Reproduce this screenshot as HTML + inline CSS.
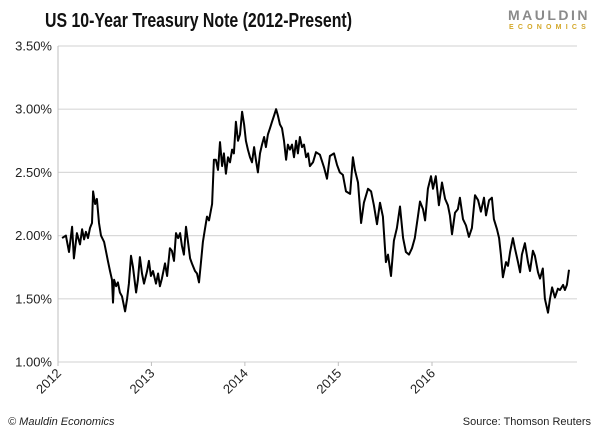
<!DOCTYPE html>
<html><head><meta charset="utf-8"><style>
body{margin:0;background:#fff;font-family:"Liberation Sans",sans-serif}
#wrap{position:relative;width:600px;height:435px;overflow:hidden}
</style></head><body>
<div id="wrap">
<svg id="chart" width="600" height="435">
<text x="45" y="27" font-size="20" font-weight="bold" fill="#111" textLength="307" lengthAdjust="spacingAndGlyphs">US 10-Year Treasury Note (2012-Present)</text>
<text x="590" y="20" text-anchor="end" font-size="14" fill="#8a8a8a" letter-spacing="2.5" font-weight="bold">MAULDIN</text>
<text x="590" y="29" text-anchor="end" font-size="7" fill="#d4a82a" letter-spacing="4.2" font-weight="bold">ECONOMICS</text>
<text x="8" y="425" font-size="11" font-style="italic" fill="#222">© Mauldin Economics</text>
<text x="591" y="425" text-anchor="end" font-size="11" fill="#222">Source: Thomson Reuters</text>
<g id="grid"></g><g id="axes"></g><g id="series"></g>
</svg>
</div>
<script>
const yTicks = [1.0, 1.5, 2.0, 2.5, 3.0, 3.5];
const yTickLabels = ["1.00%","1.50%","2.00%","2.50%","3.00%","3.50%"];
const xTickDays = [0, 365, 730, 1095, 1461];
const xTickLabels = ["2012","2013","2014","2015","2016"];
const days = [16,31,43,55,62,74,86,94,102,109,117,125,133,137,145,152,160,168,180,187,195,203,211,215,219,227,234,242,250,262,270,277,285,293,305,312,320,328,336,348,355,363,371,383,391,398,406,418,426,437,445,453,461,469,477,484,492,500,508,516,523,535,543,551,559,566,574,582,590,602,609,617,625,633,641,648,656,664,672,680,687,695,703,711,719,727,734,742,750,758,766,773,781,789,797,805,812,820,828,836,844,852,859,867,875,883,891,898,906,914,922,930,937,945,953,961,969,977,984,996,1008,1023,1039,1051,1062,1078,1090,1101,1113,1125,1141,1152,1160,1172,1184,1195,1211,1223,1234,1246,1258,1269,1281,1289,1301,1312,1324,1336,1348,1359,1371,1383,1394,1406,1414,1426,1434,1445,1457,1465,1476,1488,1500,1512,1523,1531,1539,1551,1562,1570,1582,1594,1605,1617,1629,1641,1652,1664,1672,1684,1695,1703,1715,1723,1730,1738,1750,1758,1766,1777,1785,1797,1805,1812,1824,1836,1844,1855,1863,1875,1883,1894,1902,1914,1922,1930,1941,1953,1961,1973,1980,1988,1996];
const yields = [1.98,2.00,1.87,2.07,1.82,2.02,1.93,2.05,1.97,2.03,1.98,2.06,2.10,2.35,2.25,2.29,2.10,2.00,1.95,1.88,1.80,1.72,1.65,1.47,1.65,1.60,1.63,1.55,1.52,1.40,1.50,1.62,1.84,1.75,1.55,1.65,1.83,1.70,1.62,1.72,1.80,1.68,1.72,1.62,1.70,1.60,1.66,1.78,1.68,1.90,1.88,1.80,2.02,1.98,2.02,1.92,1.85,2.07,1.95,1.82,1.78,1.72,1.70,1.63,1.80,1.95,2.05,2.15,2.12,2.25,2.60,2.60,2.52,2.74,2.55,2.65,2.49,2.62,2.58,2.68,2.65,2.90,2.75,2.80,2.98,2.88,2.75,2.68,2.62,2.58,2.70,2.60,2.50,2.65,2.72,2.78,2.70,2.80,2.85,2.90,2.95,3.00,2.95,2.88,2.85,2.75,2.60,2.72,2.68,2.72,2.62,2.75,2.65,2.78,2.70,2.72,2.62,2.65,2.55,2.58,2.66,2.64,2.54,2.45,2.63,2.65,2.56,2.50,2.48,2.35,2.33,2.62,2.52,2.42,2.10,2.26,2.37,2.35,2.24,2.09,2.26,2.15,1.79,1.85,1.68,1.96,2.06,2.23,1.98,1.87,1.85,1.90,1.98,2.15,2.27,2.21,2.12,2.37,2.47,2.37,2.47,2.24,2.42,2.29,2.24,2.16,2.01,2.18,2.21,2.30,2.13,2.08,1.99,2.06,2.32,2.28,2.19,2.30,2.16,2.28,2.30,2.13,2.05,1.98,1.85,1.67,1.79,1.76,1.87,1.98,1.90,1.79,1.71,1.85,1.94,1.79,1.72,1.88,1.84,1.71,1.66,1.74,1.50,1.39,1.50,1.59,1.51,1.58,1.57,1.61,1.57,1.61,1.73,1.71];

const X0=58, PXD=93.5/365.25, Y0=362, PXP=63.2/0.5;
const sx = d => X0 + d*PXD;
const sy = v => Y0 - (v-1.0)*PXP;
const NS="http://www.w3.org/2000/svg";
const grid=document.getElementById('grid'), axes=document.getElementById('axes'), series=document.getElementById('series');
function mk(tag,attrs,parent){const e=document.createElementNS(NS,tag);for(const k in attrs)e.setAttribute(k,attrs[k]);parent.appendChild(e);return e;}
yTicks.forEach((v,i)=>{
  const l=mk('line',{x1:X0,x2:577,y1:sy(v),y2:sy(v),stroke:'#d9d9d9','stroke-width':1.2},grid);
  
  
  const t=mk('text',{x:52,y:sy(v)+4.5,'text-anchor':'end','font-size':13,fill:'#222'},axes);
  t.textContent=yTickLabels[i];
  
  
});
const ya=mk('line',{x1:X0,x2:X0,y1:sy(3.5),y2:Y0+3,stroke:'#bfbfbf','stroke-width':1},axes);


xTickDays.forEach((d,i)=>{
  const x=sx(d);
  const tk=mk('line',{x1:x,x2:x,y1:Y0,y2:Y0+4,stroke:'#bfbfbf'},axes);
  
  
  const t=mk('text',{x:x+4,y:Y0+12,'text-anchor':'end','font-size':13,fill:'#222',transform:`rotate(-45 ${x+4} ${Y0+12})`},axes);
  t.textContent=xTickLabels[i];
  
  
});
const pts=days.map((d,i)=>sx(d).toFixed(1)+','+sy(yields[i]).toFixed(1)).join(' ');
const pl=mk('polyline',{points:pts,fill:'none',stroke:'#000','stroke-width':2,'stroke-linejoin':'round'},series);


</script>
</body></html>
